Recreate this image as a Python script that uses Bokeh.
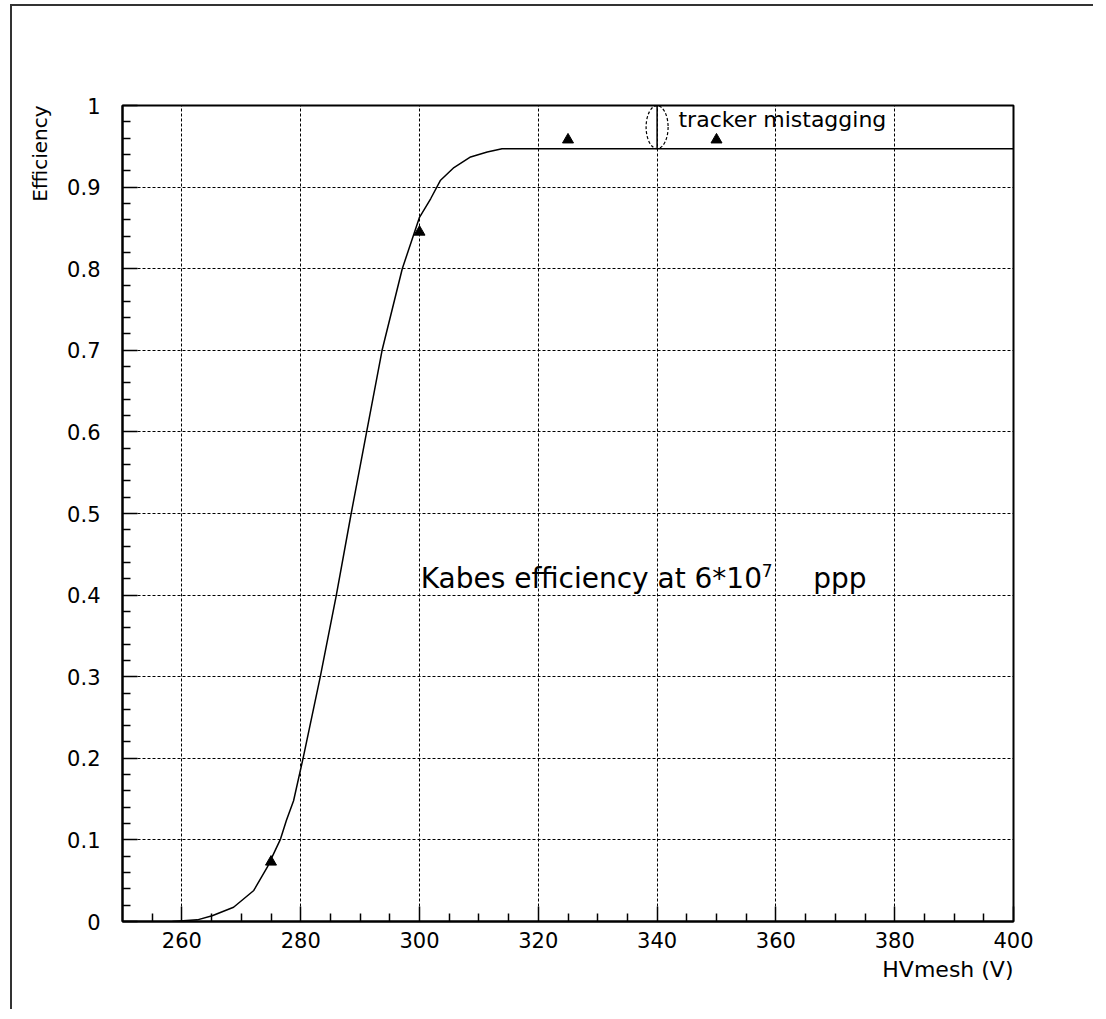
from bokeh.plotting import figure
from bokeh.models import FixedTicker, Label, Title
from bokeh.embed import file_html
from bokeh.resources import INLINE

# fitted efficiency curve
curve_hv = [258.4, 262.6, 265.1, 268.7, 272.1, 274.4, 276.6, 277.6, 278.8, 280.4,
            283.3, 286.0, 288.5, 291.1, 293.7, 297.1, 300.0, 301.9, 303.5, 305.8,
            308.6, 311.4, 313.9, 400.0]
curve_eff = [0.0, 0.002, 0.007, 0.0175, 0.038, 0.067, 0.101, 0.124, 0.148, 0.2,
             0.3, 0.4, 0.5, 0.6, 0.7, 0.8, 0.863, 0.886, 0.908, 0.924,
             0.937, 0.943, 0.947, 0.947]

# measured points
meas_hv = [275, 300, 325, 350]
meas_eff = [0.073, 0.845, 0.958, 0.958]

x_ticks = [260, 280, 300, 320, 340, 360, 380, 400]
x_minor = [255, 265, 270, 275, 285, 290, 295, 305, 310, 315, 325, 330, 335,
           345, 350, 355, 365, 370, 375, 385, 390, 395]
y_ticks = [0, 0.1, 0.2, 0.3, 0.4, 0.5, 0.6, 0.7, 0.8, 0.9, 1]
y_minor = [round(i * 0.02, 2) for i in range(51) if i % 5 != 0]

# mistagging arrow
arrow_x = 340
arrow_lo = 0.947
arrow_hi = 1.0

FONT = "DejaVu Sans"

p = figure(frame_width=891, frame_height=816, x_range=(250, 400), y_range=(0, 1),
           output_backend="svg", toolbar_location=None,
           min_border_left=110, min_border_top=99, min_border_right=80,
           min_border_bottom=88)
p.styles = {"border-left": "2px solid #333", "border-top": "2px solid #333",
            "margin-left": "10px", "margin-top": "4px"}

p.outline_line_color = "black"
p.outline_line_width = 2

for ax in (p.xaxis[0], p.yaxis[0]):
    ax.axis_line_width = 2
    ax.major_tick_in = 15
    ax.major_tick_out = 0
    ax.minor_tick_in = 8
    ax.minor_tick_out = 0
    ax.major_tick_line_width = 1.5
    ax.minor_tick_line_width = 1.5
    ax.major_label_text_font = FONT
    ax.major_label_text_font_size = "21px"
    ax.major_label_text_color = "black"

p.xaxis.ticker = FixedTicker(ticks=x_ticks, minor_ticks=x_minor)
p.yaxis.ticker = FixedTicker(ticks=y_ticks, minor_ticks=y_minor)
p.yaxis.major_label_overrides = {0: "0", 1: "1"}
p.xaxis.major_label_standoff = 10
p.yaxis.major_label_standoff = 22

# axis titles sit at the far ends of the axes
p.add_layout(Title(text="HVmesh (V)", align="right", text_font=FONT,
                   text_font_size="22px", text_font_style="normal",
                   text_color="black", standoff=8), "below")
p.add_layout(Title(text="Efficiency", align="right", text_font=FONT,
                   text_font_size="20px", text_font_style="normal",
                   text_color="black", standoff=25), "left")

for g in (p.xgrid[0], p.ygrid[0]):
    g.grid_line_color = "black"
    g.grid_line_dash = "3 2"
    g.grid_line_width = 1

p.line(curve_hv, curve_eff, line_color="black", line_width=1.5)
p.scatter(meas_hv, meas_eff, marker="triangle", size=11, color="black")

# double arrow for tracker mistagging
p.segment(x0=[arrow_x], y0=[arrow_lo], x1=[arrow_x], y1=[arrow_hi],
          line_color="black", line_width=1.5)
p.ellipse(x=[arrow_x], y=[(arrow_lo + arrow_hi) / 2], width=22, height=43,
          width_units="screen", height_units="screen", fill_color=None,
          line_color="black", line_dash="3 2", line_width=1.2)

p.add_layout(Label(x=343.6, y=0.967, text="tracker mistagging", text_font=FONT,
                   text_font_size="22px", text_color="black"))

p.add_layout(Label(x=300.2, y=0.4, text="Kabes efficiency at 6*10", text_font=FONT,
                   text_font_size="28px", text_color="black"))
p.add_layout(Label(x=357.6, y=0.422, text="7", text_font=FONT,
                   text_font_size="17px", text_color="black"))
p.add_layout(Label(x=366.3, y=0.4, text="ppp", text_font=FONT,
                   text_font_size="28px", text_color="black"))

open("out.html", "w").write(file_html(p, INLINE))
